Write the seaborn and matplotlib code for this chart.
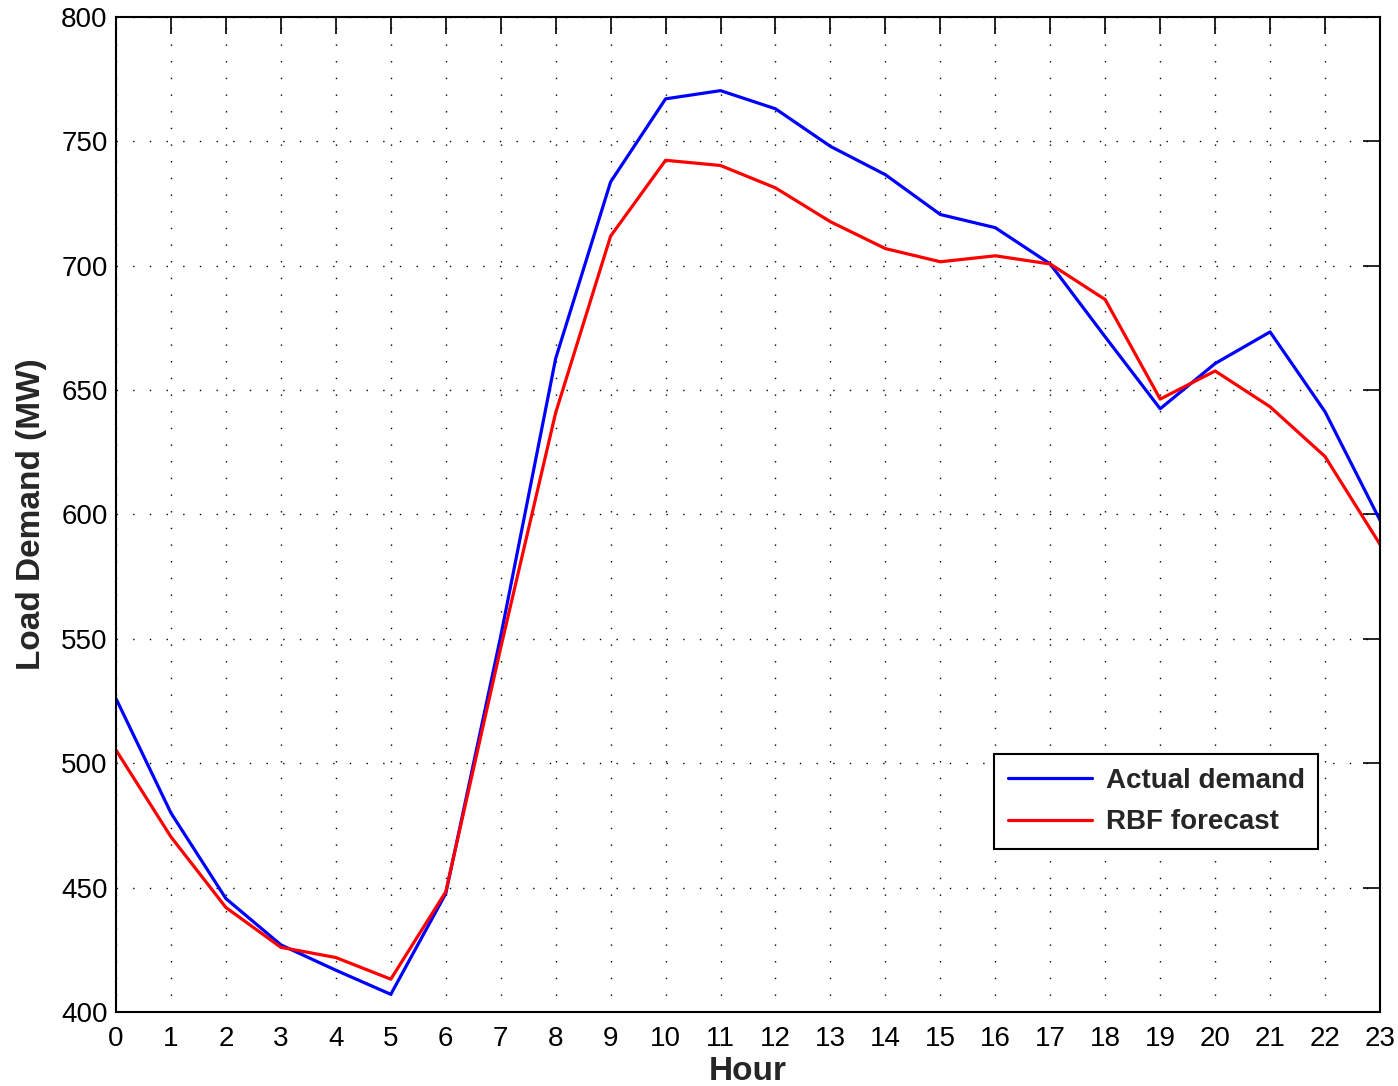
import matplotlib as mpl

mpl.use('Agg')
import pandas as pd
import matplotlib.pyplot as plt
import seaborn as sns

sns.set_style("white")
plt.rcParams['font.family'] = ['Liberation Sans', 'DejaVu Sans']

hours = list(range(24))
actual_demand = [526, 480, 445.6, 427, 416.8, 407.1, 447.6, 551, 662.7, 733.7, 767.1, 770.4,
                 763.1, 748, 736.6, 720.6, 715.3, 700.7, 671.4, 642.5, 660.7, 673.4, 641.3, 597.7]
rbf_forecast = [505.3, 470.4, 442, 426, 421.9, 413.2, 448.3, 546.4, 640.9, 711.9, 742.4, 740.3,
                731.3, 717.7, 706.9, 701.6, 704, 700.7, 686.4, 646.4, 657.7, 643.3, 623.3, 588]

df = pd.DataFrame({'Hour': hours, 'Actual demand': actual_demand, 'RBF forecast': rbf_forecast})
long_df = df.melt(id_vars='Hour', var_name='Series', value_name='Load')

fig = plt.figure(figsize=(13.98, 10.86), dpi=100)
ax = fig.add_axes([116 / 1398, 1 - 1012 / 1086, (1380 - 116) / 1398, (1012 - 17) / 1086])

sns.lineplot(data=long_df, x='Hour', y='Load', hue='Series',
             palette={'Actual demand': '#0000ff', 'RBF forecast': '#ff0000'},
             linewidth=2.3, ax=ax)

ax.set_xlim(0, 23)
ax.set_ylim(400, 800)
ax.set_xticks(hours)
ax.set_yticks(range(400, 801, 50))
ax.grid(True, color='black', linestyle=(0, (1, 11)), linewidth=1.0)
ax.tick_params(direction='in', length=12, width=1.2, top=True, right=True,
               labelsize=20, colors='black')
ax.tick_params(axis='x', pad=10)
ax.tick_params(axis='y', pad=6)
for sp in ax.spines.values():
    sp.set_linewidth(1.5)
    sp.set_color('black')

ax.set_xlabel('Hour', fontsize=24, fontweight='bold', labelpad=3)
ax.set_ylabel('Load Demand (MW)', fontsize=24, fontweight='bold', labelpad=10)

leg = ax.legend(loc='upper left', bbox_to_anchor=(0.695, 0.259), borderaxespad=0,
                prop={'weight': 'bold', 'size': 20}, handlelength=3.0, handletextpad=0.5,
                labelspacing=0.55, borderpad=0.5, fancybox=False, framealpha=1)
leg.get_frame().set_edgecolor('black')
leg.get_frame().set_linewidth(1.5)

fig.savefig('out.png', dpi=100)
